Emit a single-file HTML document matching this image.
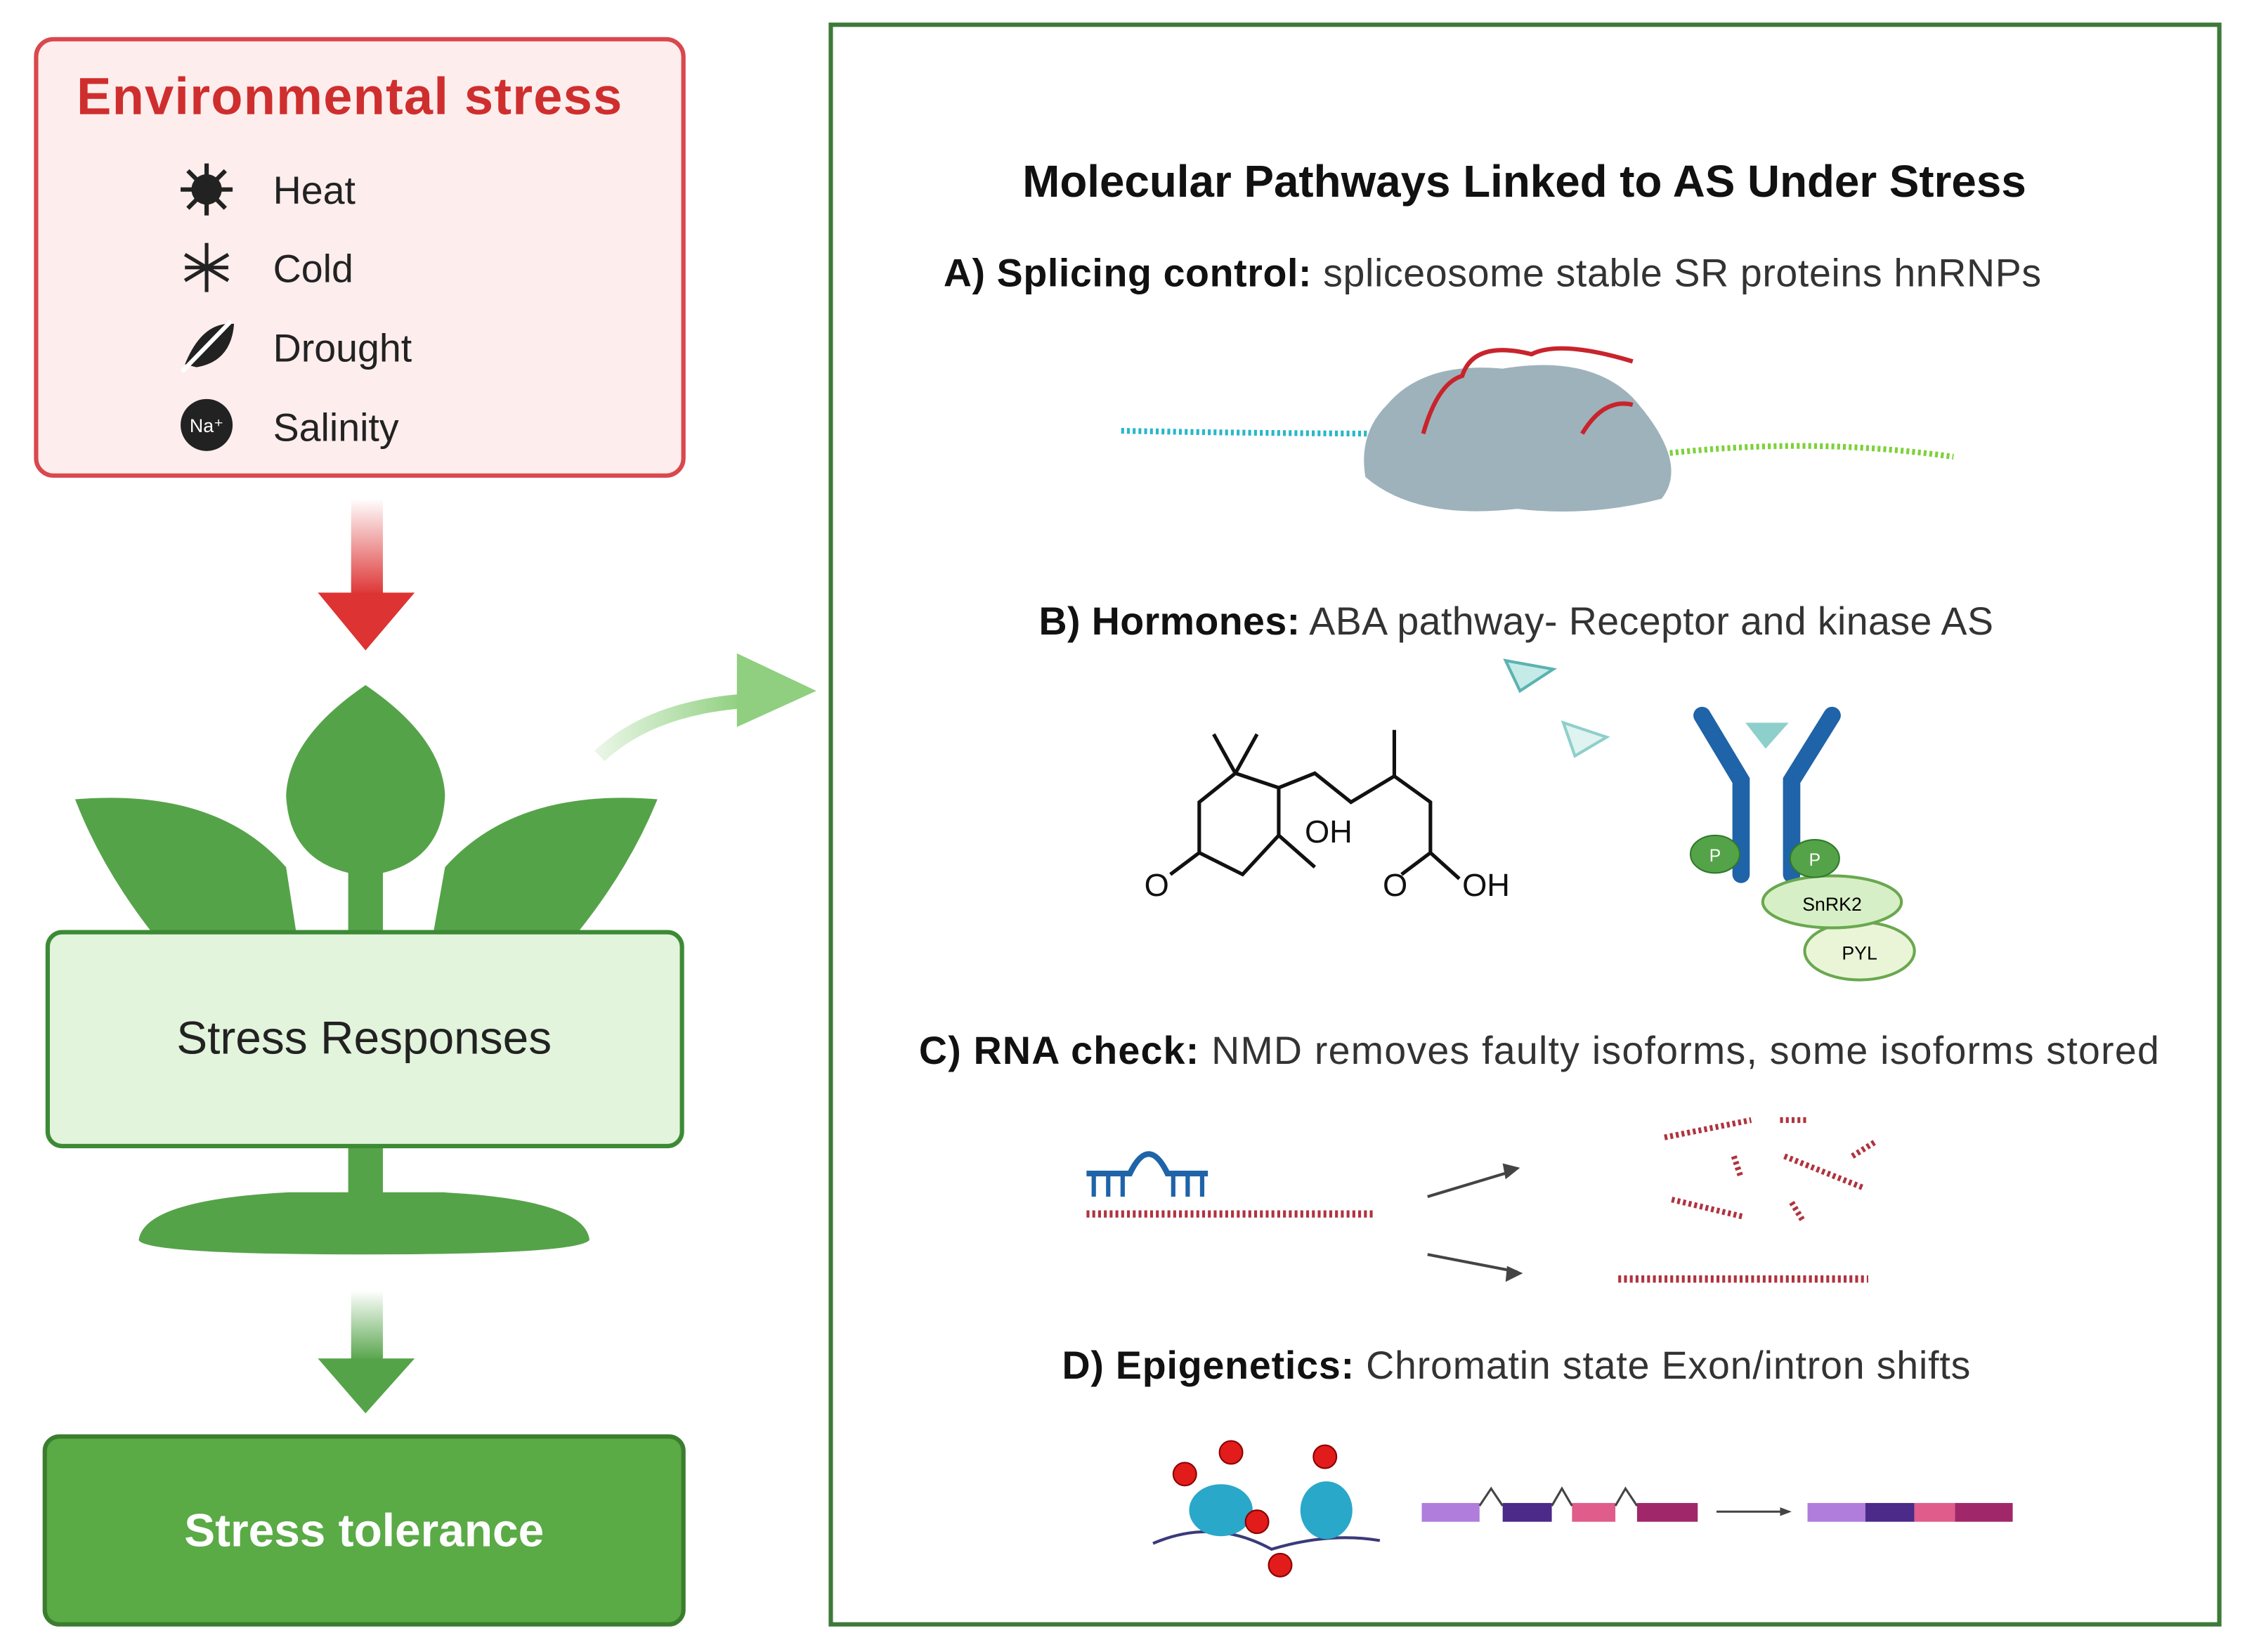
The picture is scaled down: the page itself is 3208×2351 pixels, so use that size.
<!DOCTYPE html>
<html><head><meta charset="utf-8"><style>
html,body{margin:0;padding:0;background:#fff;}
svg{display:block;}
text{font-family:"Liberation Sans",sans-serif;}
</style></head><body>
<svg width="3208" height="2351" viewBox="0 0 1560 1143" xmlns="http://www.w3.org/2000/svg">
<defs>
<linearGradient id="rg" x1="0" y1="0" x2="0" y2="1"><stop offset="0" stop-color="#d33" stop-opacity="0"/><stop offset="1" stop-color="#d33"/></linearGradient>
<linearGradient id="gg" x1="0" y1="0" x2="0" y2="1"><stop offset="0" stop-color="#55a349" stop-opacity="0"/><stop offset="1" stop-color="#55a349"/></linearGradient>
<linearGradient id="cg" x1="0" y1="0" x2="1" y2="0"><stop offset="0" stop-color="#8fcf7f" stop-opacity="0.2"/><stop offset="1" stop-color="#8fcf7f"/></linearGradient>
</defs>
<rect width="1560" height="1143" fill="#fff"/>
<rect x="25" y="27" width="448" height="302" rx="12" fill="#fdeded" stroke="#d9484d" stroke-width="3"/>
<text x="53" y="79" font-size="36" font-weight="bold" fill="#cf2e2e" letter-spacing="0.6">Environmental  stress</text>
<g font-size="27" fill="#222">
<text x="189" y="141">Heat</text><text x="189" y="195">Cold</text><text x="189" y="250">Drought</text><text x="189" y="305">Salinity</text>
</g>
<g fill="#222" stroke="#222">
<circle cx="143" cy="131" r="10"/>
<g stroke-width="3"><line x1="143" y1="113" x2="143" y2="149"/><line x1="125" y1="131" x2="161" y2="131"/><line x1="130" y1="118" x2="156" y2="144"/><line x1="156" y1="118" x2="130" y2="144"/></g>
<g stroke-width="2.5"><line x1="143" y1="168" x2="143" y2="202"/><line x1="128" y1="176" x2="158" y2="194"/><line x1="158" y1="176" x2="128" y2="194"/><line x1="128" y1="185" x2="158" y2="185"/></g>
<path d="M128 252 Q140 222 162 224 Q160 250 136 254 Z" stroke="none"/>
<line x1="126" y1="257" x2="160" y2="222" stroke-width="3" stroke="#fff"/>
<circle cx="143" cy="294" r="18" stroke="none"/>
</g>
<text x="143" y="299" font-size="13" fill="#fff" text-anchor="middle">Na⁺</text>
<rect x="243" y="345" width="22" height="67" fill="url(#rg)"/>
<polygon points="220,410 287,410 253,450" fill="#d33"/>
<g fill="#55a349">
<path d="M253 474 Q200 510 198 550 Q200 600 253 606 Q306 600 308 550 Q306 510 253 474 Z"/>
<rect x="241" y="595" width="24" height="55"/>
<path d="M52 553 Q150 545 198 600 L205 645 L105 645 Q70 600 52 553 Z"/>
<path d="M455 553 Q357 545 308 600 L300 645 L400 645 Q436 600 455 553 Z"/>
<rect x="241" y="790" width="24" height="40"/>
<path d="M96 858 Q100 830 200 825 L306 825 Q405 830 408 858 Q400 868 253 868 Q100 868 96 858 Z"/>
</g>
<rect x="33" y="645" width="439" height="148" rx="10" fill="#e2f4dc" stroke="#3d8a35" stroke-width="3"/>
<text x="252" y="729" font-size="32" text-anchor="middle" fill="#222">Stress Responses</text>
<rect x="243" y="893" width="22" height="49" fill="url(#gg)"/>
<polygon points="220,940 287,940 253,978" fill="#55a349"/>
<rect x="31" y="994" width="442" height="130" rx="10" fill="#5aaa46" stroke="#3b7d2e" stroke-width="3"/>
<text x="252" y="1070" font-size="32" font-weight="bold" text-anchor="middle" fill="#fff">Stress tolerance</text>
<path d="M415 523 Q450 490 515 485" stroke="url(#cg)" stroke-width="10" fill="none"/>
<polygon points="510,452 565,478 510,503" fill="#8fcf7f"/>
<rect x="575" y="17" width="961" height="1107" fill="#fff" stroke="#3d7a3a" stroke-width="3"/>
<text x="1055" y="136" font-size="31" font-weight="bold" text-anchor="middle" fill="#111">Molecular Pathways Linked to AS Under Stress</text>
<g font-size="27" fill="#333">
<text x="653" y="198" letter-spacing="0.3"><tspan font-weight="bold" fill="#111">A) Splicing control:</tspan> spliceosome stable SR proteins hnRNPs</text>
<text x="719" y="439" letter-spacing="0.2"><tspan font-weight="bold" fill="#111">B) Hormones:</tspan> ABA pathway- Receptor and kinase AS</text>
<text x="636" y="736" letter-spacing="0.6"><tspan font-weight="bold" fill="#111">C) RNA check:</tspan> NMD removes faulty isoforms, some isoforms stored</text>
<text x="735" y="954" letter-spacing="0.4"><tspan font-weight="bold" fill="#111">D) Epigenetics:</tspan> Chromatin state Exon/intron shifts</text>
</g>
<path d="M776 298 Q880 300 990 300" stroke="#29b7c9" stroke-width="4" fill="none" stroke-dasharray="2 2"/>
<path d="M1120 318 Q1240 300 1352 316" stroke="#7ed13a" stroke-width="4" fill="none" stroke-dasharray="2 2"/>
<path d="M960 280 Q985 250 1040 255 Q1100 245 1130 275 Q1170 320 1150 345 Q1100 358 1050 352 Q980 360 945 330 Q940 300 960 280 Z" fill="#9eb2bc"/>
<path d="M985 300 Q995 265 1012 260 Q1020 235 1060 245 Q1080 235 1130 250 M1095 300 Q1110 275 1130 280" stroke="#c8242c" stroke-width="3" fill="none"/>
<g stroke="#111" stroke-width="2.5" fill="none">
<path d="M885 545 L855 535 L830 555 L830 590 L860 605 L885 578 Z M885 545 L910 535 L935 555 L965 537 L990 555 L990 590 M965 537 L965 505 M885 578 L910 600 M855 535 L840 508 M855 535 L870 508 M830 590 L810 605 M990 590 L1010 608 M990 590 L970 605"/>
</g>
<text x="903" y="583" font-size="22" fill="#111">OH</text>
<text x="792" y="620" font-size="22" fill="#111">O</text>
<text x="957" y="620" font-size="22" fill="#111">O</text>
<text x="1012" y="620" font-size="22" fill="#111">OH</text>
<polygon points="1042,457 1075,463 1052,478" fill="#c5ebe8" stroke="#5bb3b0" stroke-width="2"/>
<polygon points="1082,500 1112,510 1090,523" fill="#dff3f1" stroke="#8fcfcb" stroke-width="2"/>
<g stroke="#1f63a8" stroke-width="12" stroke-linecap="round" fill="none">
<path d="M1178 495 L1205 540 L1205 605"/><path d="M1268 495 L1240 540 L1240 605"/>
</g>
<polygon points="1208,500 1238,500 1222,518" fill="#8fcfcb"/>
<ellipse cx="1287" cy="658" rx="38" ry="20" fill="#eaf5d8" stroke="#6aa84f" stroke-width="2"/>
<ellipse cx="1268" cy="624" rx="48" ry="18" fill="#d7efc6" stroke="#6aa84f" stroke-width="2"/>
<text x="1268" y="630" font-size="13" text-anchor="middle">SnRK2</text>
<text x="1287" y="664" font-size="13" text-anchor="middle">PYL</text>
<ellipse cx="1187" cy="591" rx="17" ry="13" fill="#55a349" stroke="#2f7a2a"/>
<ellipse cx="1256" cy="594" rx="17" ry="13" fill="#55a349" stroke="#2f7a2a"/>
<text x="1187" y="596" font-size="12" fill="#fff" text-anchor="middle">P</text>
<text x="1256" y="599" font-size="12" fill="#fff" text-anchor="middle">P</text>
<path d="M752 840 L950 840" stroke="#b0333f" stroke-width="5" stroke-dasharray="2 2"/>
<path d="M752 812 L782 812 Q795 785 808 812 L836 812" stroke="#1f63a8" stroke-width="4" fill="none"/>
<path d="M757 812 v16 M767 812 v16 M777 812 v16 M812 812 v16 M822 812 v16 M832 812 v16" stroke="#1f63a8" stroke-width="3"/>
<g stroke="#444" stroke-width="2"><line x1="988" y1="828" x2="1048" y2="810"/><line x1="988" y1="868" x2="1050" y2="880"/></g>
<polygon points="1052,808 1040,805 1042,816" fill="#444"/><polygon points="1054,881 1043,876 1042,887" fill="#444"/>
<path d="M1120 885 L1293 885" stroke="#b0333f" stroke-width="5" stroke-dasharray="2 2"/>
<g stroke="#b0333f" stroke-width="4" stroke-dasharray="2 2">
<line x1="1152" y1="787" x2="1212" y2="775"/><line x1="1232" y1="775" x2="1252" y2="775"/><line x1="1200" y1="800" x2="1205" y2="815"/><line x1="1235" y1="800" x2="1290" y2="822"/><line x1="1282" y1="800" x2="1298" y2="790"/><line x1="1157" y1="830" x2="1207" y2="842"/><line x1="1240" y1="832" x2="1248" y2="845"/>
</g>
<path d="M798 1068 Q840 1050 880 1072 Q920 1060 955 1066" stroke="#3a3a7a" stroke-width="2" fill="none"/>
<ellipse cx="845" cy="1045" rx="22" ry="18" fill="#2aa8c9"/><ellipse cx="918" cy="1045" rx="18" ry="20" fill="#2aa8c9"/>
<g fill="#e21b1b" stroke="#800" stroke-width="1">
<circle cx="820" cy="1020" r="8"/><circle cx="852" cy="1005" r="8"/><circle cx="917" cy="1008" r="8"/><circle cx="870" cy="1053" r="8"/><circle cx="886" cy="1083" r="8"/>
</g>
<g>
<rect x="984" y="1040" width="40" height="13" fill="#b07ddc"/><rect x="1040" y="1040" width="34" height="13" fill="#4b2a8a"/><rect x="1088" y="1040" width="30" height="13" fill="#e05c8a"/><rect x="1133" y="1040" width="42" height="13" fill="#a0286a"/>
<path d="M1024 1042 L1032 1030 L1040 1042 M1074 1042 L1081 1030 L1088 1042 M1118 1042 L1125 1030 L1133 1042" stroke="#444" fill="none" stroke-width="1.5"/>
<line x1="1188" y1="1046" x2="1236" y2="1046" stroke="#444" stroke-width="1.5"/><polygon points="1240,1046 1232,1043 1232,1049" fill="#444"/>
<rect x="1251" y="1040" width="40" height="13" fill="#b07ddc"/><rect x="1291" y="1040" width="34" height="13" fill="#4b2a8a"/><rect x="1325" y="1040" width="28" height="13" fill="#e05c8a"/><rect x="1353" y="1040" width="40" height="13" fill="#a0286a"/>
</g>
</svg>
</body></html>
